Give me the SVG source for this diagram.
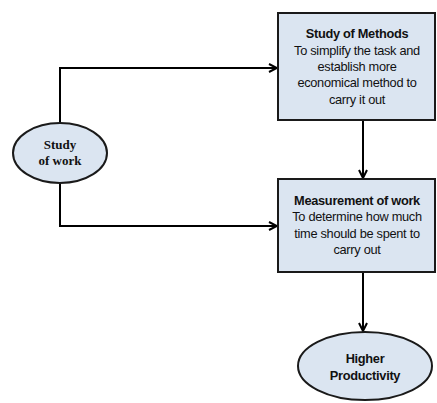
<svg xmlns="http://www.w3.org/2000/svg" width="437" height="403" viewBox="0 0 437 403">
<defs>
<marker id="ah" markerWidth="10" markerHeight="10" refX="9" refY="5" orient="auto" markerUnits="userSpaceOnUse">
<path d="M1,1 L9,5 L1,9" fill="none" stroke="#000" stroke-width="2"/>
</marker>
<style>
.box{fill:#dbe5f1;stroke:#1a1a1a;stroke-width:2}
.t{font-family:"Liberation Sans",Arial,sans-serif;font-size:12.8px;fill:#111;text-anchor:middle;letter-spacing:-0.3px}
.b{font-weight:bold}
.s{font-family:"Liberation Serif",serif;font-size:13px;font-weight:bold;fill:#111;text-anchor:middle}
.c{fill:none;stroke:#000;stroke-width:2}
</style>
</defs>
<rect width="437" height="403" fill="#fff"/>
<g id="connectors">
<path class="c" d="M60,124 V68 H277" marker-end="url(#ah)"/>
<path class="c" d="M60,183 V226 H277" marker-end="url(#ah)"/>
<path class="c" d="M363,121 V178" marker-end="url(#ah)"/>
<path class="c" d="M363,273 V331" marker-end="url(#ah)"/>
</g>
<g id="study-of-work">
<ellipse class="box" cx="60" cy="153" rx="47" ry="30"/>
<text class="s" x="60" y="149">Study</text>
<text class="s" x="60" y="165">of work</text>
</g>
<g id="study-of-methods">
<rect class="box" x="278" y="13" width="157" height="107"/>
<text class="t b" x="357" y="38">Study of Methods</text>
<text class="t" x="357" y="55">To simplify the task and</text>
<text class="t" x="357" y="71">establish more</text>
<text class="t" x="357" y="87">economical method to</text>
<text class="t" x="357" y="104">carry it out</text>
</g>
<g id="measurement-of-work">
<rect class="box" x="278" y="179" width="157" height="93"/>
<text class="t b" x="357" y="205">Measurement of work</text>
<text class="t" x="357" y="221">To determine how much</text>
<text class="t" x="357" y="238">time should be spent to</text>
<text class="t" x="357" y="254">carry out</text>
</g>
<g id="higher-productivity">
<ellipse class="box" cx="365" cy="366" rx="67" ry="34"/>
<text class="t b" x="365" y="363">Higher</text>
<text class="t b" x="365" y="380">Productivity</text>
</g>
</svg>
